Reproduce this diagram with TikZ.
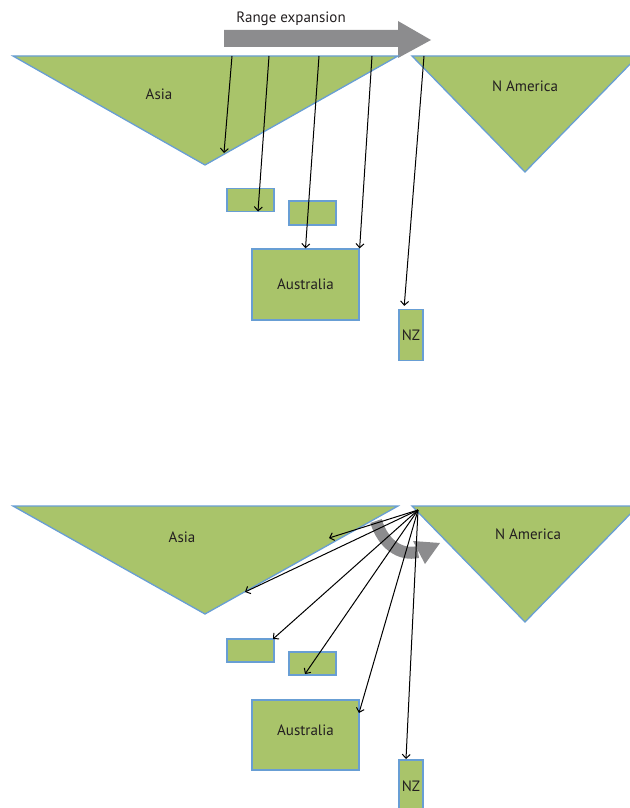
\documentclass[tikz,border=0pt]{standalone}
\usepackage{fontspec}
\setmainfont{PT Sans}
\usepackage{tikz}
\usetikzlibrary{arrows,arrows.meta,positioning}

\definecolor{landgreen}{RGB}{169,196,106}
\definecolor{landblue}{RGB}{104,158,212}
\definecolor{bigarrow}{RGB}{140,140,142}
\definecolor{labeltext}{RGB}{35,31,32}

\tikzset{
  land/.style={fill=landgreen, draw=landblue, line width=1.3},
  isle/.style={land, inner sep=0pt, font=\fontsize{15}{17}\selectfont, text=labeltext},
  landlabel/.style={font=\fontsize{15}{17}\selectfont, text=labeltext},
  disp/.style={-{Straight Barb[length=4pt,width=8pt]}, line width=1, black}
}

\begin{document}
\begin{tikzpicture}[x=1pt,y=-1pt]
\useasboundingbox (0,0) rectangle (629,808);

% top panel: range expansion
\fill[bigarrow] (224,30) -- (398,30) -- (398,21) -- (431,40) -- (398,58) -- (398,47) -- (224,47) -- cycle;
\node[landlabel] (rangelabel) at (291,19) {Range expansion};

\filldraw[land] (13,56) coordinate (asiaA1) -- (398,56) coordinate (asiaA2) -- (205,165) coordinate (asiaA3) -- cycle;
\node[landlabel] (asiaA) at (159,94) {Asia};
\filldraw[land] (412,56) coordinate (namA1) -- (638,56) -- (525,172) -- cycle;
\node[landlabel] (namA) at (525,86) {N America};

\node[isle, minimum width=47, minimum height=23] (isleA1) at (250.5,200) {};
\node[isle, minimum width=47, minimum height=24] (isleA2) at (312.5,213) {};
\node[isle, minimum width=107, minimum height=71] (ausA) at (305.5,284.5) {Australia};
\node[isle, minimum width=24, minimum height=51] (nzA) at (411,335) {NZ};

\coordinate (sA1) at (232,56);
\coordinate (sA2) at (269,56);
\coordinate (sA3) at (319,56);
\coordinate (sA4) at (372,56);
\coordinate (sA5) at (424,56);
\coordinate (eA1) at (224,153);
\coordinate (eA2) at (258,211.5);
\draw[disp] (sA1) -- (eA1);
\draw[disp] (sA2) -- (eA2);
\draw[disp] (sA3) -- (ausA.north);
\draw[disp] (sA4) -- (ausA.north east);
\draw[disp, shorten >=3pt] (sA5) -- (nzA.north -| 404,0);

% bottom panel: dispersal from N America
\filldraw[land] (13,506) coordinate (asiaB1) -- (398,506) coordinate (asiaB2) -- (205,614) coordinate (asiaB3) -- cycle;
\node[landlabel] (asiaB) at (182,537) {Asia};
\filldraw[land] (412,506) coordinate (namB1) -- (638,506) -- (525,622) -- cycle;
\node[landlabel] (namB) at (528,534) {N America};

\node[isle, minimum width=47, minimum height=23] (isleB1) at (250.5,650.5) {};
\node[isle, minimum width=47, minimum height=23] (isleB2) at (312.5,663.5) {};
\node[isle, minimum width=107, minimum height=70] (ausB) at (305.5,735) {};
\node[landlabel] (ausBlabel) at (305.5,730) {Australia};
\node[isle, minimum width=24, minimum height=52] (nzB) at (411,786) {NZ};

\draw[line width=12, bigarrow] (376,521) .. controls (383,544) and (400,556) .. (418,552);
\fill[bigarrow] (413,541) -- (440,543) -- (425,564) -- cycle;

\coordinate (hub) at (418,510);
\coordinate (eB1) at (329,538);
\coordinate (eB2) at (245,592);
\coordinate (eB3) at (273,639);
\coordinate (eB4) at (305,674);
\coordinate (eB5) at (359,713);
\coordinate (eB6) at (406,759);
\foreach \e in {eB1,eB2,eB3,eB4,eB5,eB6}
  \draw[disp] (hub) -- (\e);
\end{tikzpicture}
\end{document}
